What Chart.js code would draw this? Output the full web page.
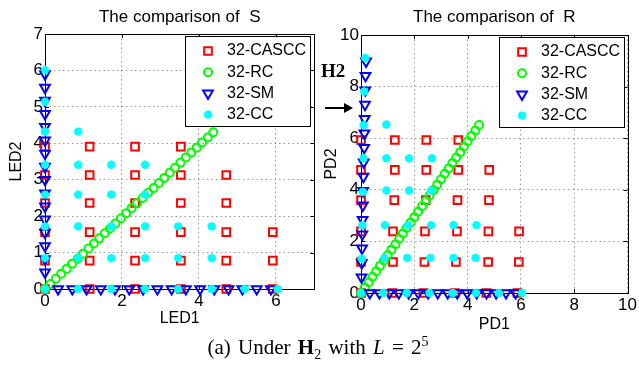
<!DOCTYPE html>
<html>
<head>
<meta charset="utf-8">
<script src="https://cdn.jsdelivr.net/npm/chart.js@4/dist/chart.umd.min.js"></script>
<style>
  body { margin: 0; background: #fff; width: 639px; height: 368px; overflow: hidden; position: relative; }
  canvas { position: absolute; top: 0; }
  #chartS { left: 0; }
  #chartR { left: 322px; }
  #h2label { position: absolute; left: 321px; top: 60px; font: bold 19px "Liberation Serif", "Times New Roman", serif; }
  #arrow { position: absolute; left: 322px; top: 100px; }
  #caption { position: absolute; left: 0; width: 636px; top: 334px; text-align: center; word-spacing: 2px;
             font: 21px "Liberation Serif", "Times New Roman", serif; }
  #caption sub, #caption sup { font-size: 14px; }
</style>
</head>
<body>
<canvas id="chartS" width="322" height="330"></canvas>
<canvas id="chartR" width="317" height="336"></canvas>
<div id="h2label">H2</div>
<svg id="arrow" width="34" height="16">
  <line x1="3" y1="8" x2="24" y2="8" stroke="#000" stroke-width="2"/>
  <polygon points="22,3 31,8 22,13" fill="#000"/>
</svg>
<div id="caption">(a) Under <b>H</b><sub>2</sub> with <i>L</i> = 2<sup>5</sup></div>

<script>
// ---- data: left plot (S) ----
const sTicksX = [0, 2, 4, 6];
const sTicksY = [0, 1, 2, 3, 4, 5, 6, 7];

const sCasccX = [0, 1.16, 2.34, 3.53,
  0, 1.16, 2.34, 3.53, 4.71,
  0, 1.16, 2.34, 3.53, 4.71,
  0, 1.16, 2.34, 3.53, 4.71, 5.92,
  0, 1.16, 2.34, 3.53, 4.71, 5.92,
  0, 1.16, 2.34, 3.53, 4.71, 5.92];
const sCasccY = [3.91, 3.91, 3.91, 3.91,
  3.13, 3.13, 3.13, 3.13, 3.13,
  2.36, 2.36, 2.36, 2.36, 2.36,
  1.56, 1.56, 1.56, 1.56, 1.56, 1.56,
  0.78, 0.78, 0.78, 0.78, 0.78, 0.78,
  0, 0, 0, 0, 0, 0];

const sRcX = [0, 0.14, 0.28, 0.42, 0.56, 0.7, 0.85, 0.99, 1.13, 1.27, 1.41, 1.55, 1.69, 1.83, 1.97, 2.11,
  2.25, 2.39, 2.54, 2.68, 2.82, 2.96, 3.1, 3.24, 3.38, 3.52, 3.66, 3.8, 3.94, 4.08, 4.23, 4.37];
const sRcY = [0, 0.14, 0.28, 0.42, 0.55, 0.69, 0.83, 0.97, 1.11, 1.25, 1.39, 1.53, 1.66, 1.8, 1.94, 2.08,
  2.22, 2.36, 2.5, 2.64, 2.77, 2.91, 3.05, 3.19, 3.33, 3.47, 3.61, 3.75, 3.88, 4.02, 4.16, 4.3];

const sSmX = [0, 0, 0, 0, 0, 0, 0, 0, 0, 0, 0, 0, 0, 0, 0, 0,
  0.34, 0.71, 1.08, 1.45, 1.82, 2.19, 2.55, 2.92, 3.29, 3.66, 4.03, 4.4, 4.77, 5.13, 5.5, 5.87];
const sSmY = [0.46, 0.82, 1.18, 1.55, 1.91, 2.27, 2.63, 3.0, 3.36, 3.72, 4.08, 4.45, 4.81, 5.17, 5.53, 5.9,
  0, 0, 0, 0, 0, 0, 0, 0, 0, 0, 0, 0, 0, 0, 0, 0];

const sCcX = [0, 0, 0, 0, 0, 0, 0, 0,
  0.86, 1.72, 2.6, 3.46, 4.33, 5.19, 6.05,
  0.86, 0.86, 1.72, 2.6, 0.86, 1.72, 2.6,
  0.86, 1.72, 2.6, 3.46, 4.33, 0.86, 1.72, 2.6, 3.46, 4.33];
const sCcY = [0, 0.85, 1.72, 2.59, 3.41, 4.32, 5.14, 6.01,
  0, 0, 0, 0, 0, 0, 0,
  4.32, 3.41, 3.41, 3.41, 2.59, 2.59, 2.59,
  1.72, 1.72, 1.72, 1.72, 1.72, 0.85, 0.85, 0.85, 0.85, 0.85];

// ---- data: right plot (R) ----
const rTicksX = [0, 2, 4, 6, 8, 10];
const rTicksY = [0, 2, 4, 6, 8, 10];

const rCasccX = [0, 1.27, 2.45, 3.65,
  0, 1.27, 2.45, 3.65, 4.81,
  0, 1.25, 2.43, 3.62, 4.8,
  0, 1.2, 2.4, 3.6, 4.78, 5.93,
  0, 1.2, 2.38, 3.56, 4.77, 5.92,
  0, 1.17, 2.34, 3.52, 4.7, 5.87];
const rCasccY = [5.93, 5.93, 5.93, 5.93,
  4.77, 4.77, 4.77, 4.77, 4.77,
  3.6, 3.6, 3.6, 3.6, 3.6,
  2.39, 2.39, 2.39, 2.39, 2.39, 2.39,
  1.2, 1.2, 1.2, 1.2, 1.2, 1.2,
  0, 0, 0, 0, 0, 0];

const rRcX = [0, 0.14, 0.29, 0.43, 0.57, 0.71, 0.86, 1, 1.14, 1.29, 1.43, 1.57, 1.71, 1.86, 2, 2.14,
  2.29, 2.43, 2.57, 2.72, 2.86, 3, 3.14, 3.29, 3.43, 3.57, 3.72, 3.86, 4, 4.14, 4.29, 4.43];
const rRcY = [0, 0.21, 0.42, 0.63, 0.84, 1.05, 1.26, 1.47, 1.68, 1.89, 2.1, 2.31, 2.52, 2.73, 2.94, 3.15,
  3.36, 3.57, 3.78, 3.99, 4.2, 4.41, 4.62, 4.83, 5.04, 5.25, 5.46, 5.67, 5.88, 6.09, 6.3, 6.51];

const rSmX = [0.02, 0.03, 0.04, 0.05, 0.06, 0.07, 0.08, 0.09, 0.1, 0.12, 0.13, 0.14, 0.15, 0.16, 0.17, 0.19,
  0.33, 0.69, 1.06, 1.42, 1.79, 2.15, 2.52, 2.88, 3.25, 3.61, 3.98, 4.34, 4.71, 5.07, 5.44, 5.8];
const rSmY = [0.61, 1.17, 1.73, 2.28, 2.84, 3.4, 3.96, 4.51, 5.07, 5.63, 6.19, 6.75, 7.3, 7.86, 8.42, 8.98,
  0, 0, 0, 0, 0, 0, 0, 0, 0, 0, 0, 0, 0, 0, 0, 0];

const rCcX = [0, 0.03, 0.05, 0.07, 0.09, 0.1, 0.12, 0.16,
  0.84, 1.71, 2.57, 3.44, 4.31, 5.17, 6.04,
  0.95, 0.95, 1.8, 2.66, 0.95, 1.8, 2.63,
  0.9, 1.76, 2.63, 3.47, 4.33, 0.88, 1.73, 2.6, 3.47, 4.3];
const rCcY = [0, 1.33, 2.63, 3.92, 5.22, 6.51, 7.81, 9.11,
  0, 0, 0, 0, 0, 0, 0,
  6.53, 5.22, 5.22, 5.22, 3.97, 3.97, 3.97,
  2.63, 2.63, 2.63, 2.63, 2.63, 1.36, 1.36, 1.36, 1.36, 1.36];

const seriesNames = ["32-CASCC", "32-RC", "32-SM", "32-CC"];

const FONT = '"Liberation Sans", Arial, sans-serif';

function pts(xs, ys) {
  return xs.map((x, i) => ({ x: x, y: ys[i] }));
}

// marker styles per series (MATLAB s / o / v / *)
const markerStyles = [
  { pointStyle: "rect", pointRadius: 5.4, pointRotation: 0, pointBorderColor: "#ff0000", pointBorderWidth: 2, order: 4 },
  { pointStyle: "circle", pointRadius: 4, pointRotation: 0, pointBorderColor: "#00ff00", pointBorderWidth: 2, order: 3 },
  { pointStyle: "triangle", pointRadius: 5.6, pointRotation: 180, pointBorderColor: "#0000ff", pointBorderWidth: 2, order: 2 },
  { pointStyle: "star", pointRadius: 4.2, pointRotation: 0, pointBorderColor: "#00ffff", pointBorderWidth: 2.6, order: 1 },
];

function makeDatasets(list) {
  return list.map((data, i) =>
    Object.assign({
      label: seriesNames[i],
      data: data,
      pointBackgroundColor: "rgba(0,0,0,0)",
      pointHoverRadius: markerStyles[i].pointRadius,
      clip: false,
    }, markerStyles[i])
  );
}

// box, inward ticks
const framePlugin = {
  id: "frame",
  beforeDatasetsDraw(chart) {
    const { ctx, chartArea: a, scales } = chart;
    ctx.save();
    ctx.strokeStyle = "#000";
    ctx.lineWidth = 1;
    ctx.beginPath();
    scales.x.ticks.forEach((t) => {
      const px = Math.round(scales.x.getPixelForValue(t.value)) + 0.5;
      ctx.moveTo(px, a.bottom); ctx.lineTo(px, a.bottom - 4);
      ctx.moveTo(px, a.top); ctx.lineTo(px, a.top + 4);
    });
    scales.y.ticks.forEach((t) => {
      const py = Math.round(scales.y.getPixelForValue(t.value)) + 0.5;
      ctx.moveTo(a.left, py); ctx.lineTo(a.left + 4, py);
      ctx.moveTo(a.right, py); ctx.lineTo(a.right - 4, py);
    });
    ctx.stroke();
    ctx.strokeRect(Math.round(a.left) + 0.5, Math.round(a.top) + 0.5, Math.round(a.width), Math.round(a.height));
    ctx.restore();
  },
};

// title centred over the axes
const plotTitlePlugin = {
  id: "plotTitle",
  afterDraw(chart, args, opts) {
    const { ctx, chartArea: a } = chart;
    ctx.save();
    ctx.font = "17px " + FONT;
    ctx.fillStyle = "#000";
    ctx.textAlign = "center";
    ctx.textBaseline = "middle";
    ctx.fillText(opts.text, (a.left + a.right) / 2, opts.y);
    ctx.restore();
  },
};

// legend box in the top right corner of the axes
const boxLegendPlugin = {
  id: "boxLegend",
  afterDraw(chart, args, opts) {
    const { ctx, chartArea: a } = chart;
    const w = 125, h = 90;
    const left = Math.round(a.right - 4 - w);
    const top = Math.round(a.top + opts.top);
    ctx.save();
    ctx.fillStyle = "#fff";
    ctx.fillRect(left, top, w, h);
    ctx.strokeStyle = "#000";
    ctx.lineWidth = 1;
    ctx.strokeRect(left + 0.5, top + 0.5, w, h);
    ctx.font = "16px " + FONT;
    ctx.textBaseline = "middle";
    chart.data.datasets.forEach((ds, i) => {
      const y = top + 15 + i * 21.2;
      ctx.fillStyle = "rgba(0,0,0,0)";
      ctx.strokeStyle = ds.pointBorderColor;
      ctx.lineWidth = ds.pointBorderWidth;
      Chart.helpers.drawPoint(ctx, {
        pointStyle: ds.pointStyle,
        radius: ds.pointRadius,
        rotation: ds.pointRotation,
        borderWidth: ds.pointBorderWidth,
      }, left + 23, y);
      ctx.fillStyle = "#000";
      ctx.fillText(ds.label, left + 42, y);
    });
    ctx.restore();
  },
};

function axis(ticksArr, max, title, titlePad, fitSize, horizontal) {
  return {
    type: "linear",
    min: 0,
    max: max,
    afterBuildTicks: (s) => { s.ticks = ticksArr.map((v) => ({ value: v })); },
    afterFit: (s) => { if (horizontal) s.height = fitSize; else s.width = fitSize; },
    ticks: { padding: horizontal ? 2 : 2, color: "#000", font: { size: 17, family: FONT }, maxRotation: 0, autoSkip: false },
    grid: { color: "rgba(0,0,0,0.4)", lineWidth: 1, drawTicks: false, borderDash: [1.5, 3] },
    border: { display: false, dash: [1.5, 3] },
    title: { display: true, text: title, color: "#000", font: { size: 16, family: FONT }, padding: titlePad },
  };
}

function makeChart(id, datasets, cfg) {
  return new Chart(document.getElementById(id), {
    type: "scatter",
    data: { datasets: datasets },
    options: {
      responsive: false,
      animation: false,
      events: [],
      layout: { padding: cfg.padding },
      scales: {
        x: axis(cfg.ticksX, cfg.maxX, cfg.xTitle, { top: 4, bottom: cfg.xTitlePad }, cfg.xHeight, true),
        y: axis(cfg.ticksY, cfg.maxY, cfg.yTitle, { top: cfg.yTitlePad, bottom: 4 }, cfg.yWidth, false),
      },
      plugins: {
        legend: { display: false },
        tooltip: { enabled: false },
        plotTitle: { text: cfg.title, y: 17 },
        boxLegend: { top: 2 },
      },
    },
    plugins: [framePlugin, plotTitlePlugin, boxLegendPlugin],
  });
}

makeChart("chartS",
  makeDatasets([pts(sCasccX, sCasccY), pts(sRcX, sRcY), pts(sSmX, sSmY), pts(sCcX, sCcY)]),
  {
    title: "The comparison of  S", xTitle: "LED1", yTitle: "LED2",
    ticksX: sTicksX, ticksY: sTicksY, maxX: 7, maxY: 7,
    padding: { left: 0, top: 34, right: 5, bottom: 0 },
    xHeight: 41, yWidth: 45, xTitlePad: 2, yTitlePad: 7,
  });

makeChart("chartR",
  makeDatasets([pts(rCasccX, rCasccY), pts(rRcX, rRcY), pts(rSmX, rSmY), pts(rCcX, rCcY)]),
  {
    title: "The comparison of  R", xTitle: "PD1", yTitle: "PD2",
    ticksX: rTicksX, ticksY: rTicksY, maxX: 10, maxY: 10,
    padding: { left: 0, top: 35, right: 9, bottom: 0 },
    xHeight: 43, yWidth: 39, xTitlePad: 2, yTitlePad: 0,
  });
</script>
</body>
</html>
